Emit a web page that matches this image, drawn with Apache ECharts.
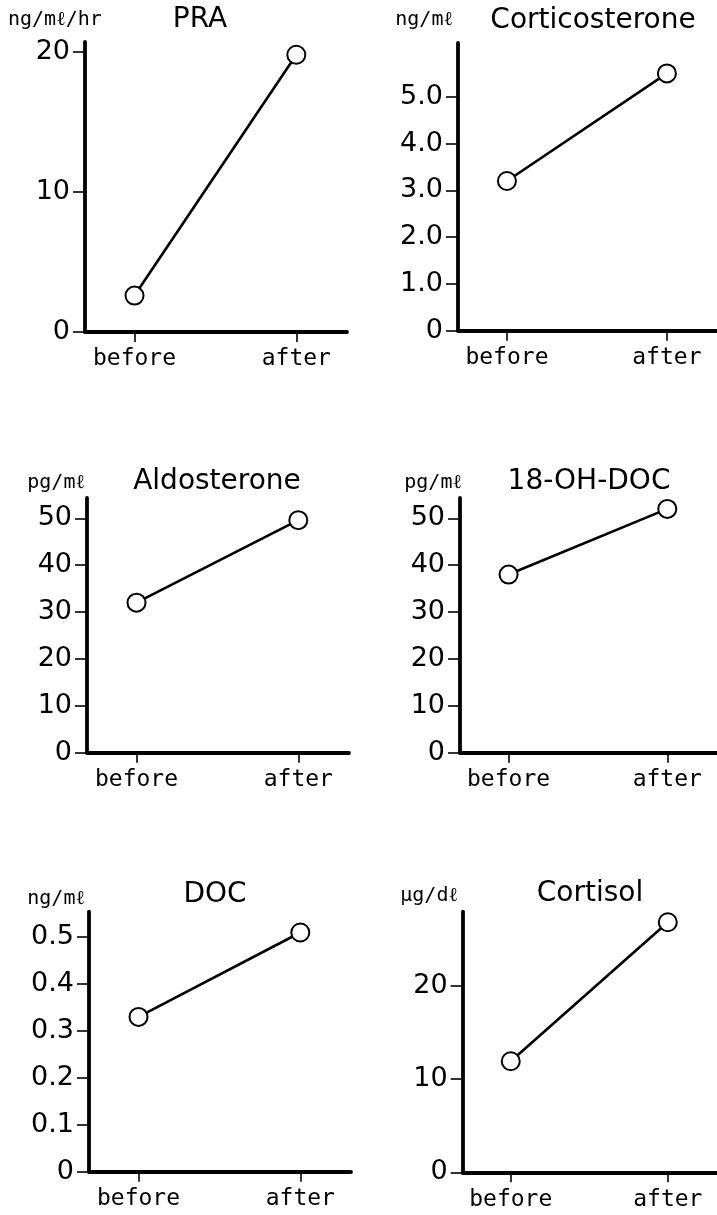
<!DOCTYPE html>
<html><head><meta charset="utf-8">
<script src="https://cdn.jsdelivr.net/npm/echarts@6/dist/echarts.min.js"></script>
<style>html,body{margin:0;padding:0;background:#fff}#c{width:717px;height:1215px}</style>
</head><body><div id="c"></div>
<script>
// ---- data ----
const categories = ['before', 'after'];
const titles = ['PRA', 'Corticosterone', 'Aldosterone', '18-OH-DOC', 'DOC', 'Cortisol'];
const units = ['ng/mℓ/hr', 'ng/mℓ', 'pg/mℓ', 'pg/mℓ', 'ng/mℓ', 'μg/dℓ'];

const praValues = [2.6, 19.8];
const corticosteroneValues = [3.2, 5.5];
const aldosteroneValues = [32, 49.6];
const ohDocValues = [38, 52];
const docValues = [0.33, 0.51];
const cortisolValues = [11.9, 26.8];

const praTicks = [0, 10, 20];
const praTickLabels = ['0', '10', '20'];
const corticosteroneTicks = [0, 1, 2, 3, 4, 5];
const corticosteroneTickLabels = ['0', '1.0', '2.0', '3.0', '4.0', '5.0'];
const aldosteroneTicks = [0, 10, 20, 30, 40, 50];
const aldosteroneTickLabels = ['0', '10', '20', '30', '40', '50'];
const ohDocTicks = [0, 10, 20, 30, 40, 50];
const ohDocTickLabels = ['0', '10', '20', '30', '40', '50'];
const docTicks = [0, 0.1, 0.2, 0.3, 0.4, 0.5];
const docTickLabels = ['0', '0.1', '0.2', '0.3', '0.4', '0.5'];
const cortisolTicks = [0, 10, 20];
const cortisolTickLabels = ['0', '10', '20'];

const axisMaxima = [20.71, 6.15, 54.33, 54.33, 0.5544, 27.93];

// ---- layout ----
const panels = [
  {values: praValues, ticks: praTicks, labels: praTickLabels, left: 85, top: 42, height: 290,
   title: [200, 20], unit: [8, 20, 'left']},
  {values: corticosteroneValues, ticks: corticosteroneTicks, labels: corticosteroneTickLabels, left: 458, top: 43, height: 287.7,
   title: [593, 21], unit: [453, 20, 'right']},
  {values: aldosteroneValues, ticks: aldosteroneTicks, labels: aldosteroneTickLabels, left: 87, top: 498, height: 254.7,
   title: [217, 482], unit: [85, 483, 'right']},
  {values: ohDocValues, ticks: ohDocTicks, labels: ohDocTickLabels, left: 460, top: 498, height: 254.7,
   title: [589, 482], unit: [462, 483, 'right']},
  {values: docValues, ticks: docTicks, labels: docTickLabels, left: 89, top: 911.7, height: 260,
   title: [215, 895], unit: [85, 899, 'right']},
  {values: cortisolValues, ticks: cortisolTicks, labels: cortisolTickLabels, left: 462.7, top: 911.7, height: 260.6,
   title: [590, 894], unit: [458, 896, 'right']}
];

const GRID_W = 262;
const X_MIN = -0.306;
const X_MAX = X_MIN + GRID_W / 161.8;

const grid = [], xAxis = [], yAxis = [], series = [], title = [];
panels.forEach((p, i) => {
  grid.push({left: p.left, top: p.top, width: GRID_W, height: p.height, containLabel: false});
  xAxis.push({
    type: 'value', gridIndex: i, min: X_MIN, max: X_MAX,
    axisLine: {show: true, onZero: false, lineStyle: {color: '#000', width: 3.8}},
    axisTick: {show: true, customValues: [0, 1], length: 10, inside: false, lineStyle: {color: '#000', width: 1.6}},
    axisLabel: {show: true, customValues: [0, 1], margin: 16,
      formatter: v => categories[Math.round(v)],
      fontFamily: 'DejaVu Sans Mono', fontSize: 23, color: '#000'},
    splitLine: {show: false}
  });
  yAxis.push({
    type: 'value', gridIndex: i, min: 0, max: axisMaxima[i],
    axisLine: {show: true, onZero: false, lineStyle: {color: '#000', width: 3.8}},
    axisTick: {show: true, customValues: p.ticks, length: 12, inside: false, lineStyle: {color: '#000', width: 1.6}},
    axisLabel: {show: true, customValues: p.ticks, margin: 15,
      formatter: v => { const k = p.ticks.findIndex(t => Math.abs(t - v) < 1e-9); return k >= 0 ? p.labels[k] : ''; },
      fontFamily: 'DejaVu Sans', fontSize: 27, color: '#000'},
    splitLine: {show: false}
  });
  series.push({
    type: 'line', xAxisIndex: i, yAxisIndex: i, clip: false,
    data: p.values.map((v, k) => [k, v]),
    symbol: 'circle', symbolSize: 18,
    itemStyle: {color: '#fff', borderColor: '#000', borderWidth: 2},
    lineStyle: {color: '#000', width: 2.6},
    emphasis: {disabled: true}, animation: false
  });
  title.push({
    text: titles[i], left: p.title[0], top: p.title[1], textAlign: 'center', textVerticalAlign: 'middle', padding: 0,
    textStyle: {fontFamily: 'DejaVu Sans', fontSize: 28, fontWeight: 'normal', color: '#000'}
  });
  title.push({
    text: units[i], left: p.unit[0], top: p.unit[1], textAlign: p.unit[2], textVerticalAlign: 'middle', padding: 0,
    textStyle: {fontFamily: 'DejaVu Sans Mono', fontSize: 20, fontWeight: 'normal', color: '#000'}
  });
});

const chart = echarts.init(document.getElementById('c'), null, {renderer: 'canvas'});
chart.setOption({backgroundColor: '#fff', animation: false, title, grid, xAxis, yAxis, series});
</script>
</body></html>
